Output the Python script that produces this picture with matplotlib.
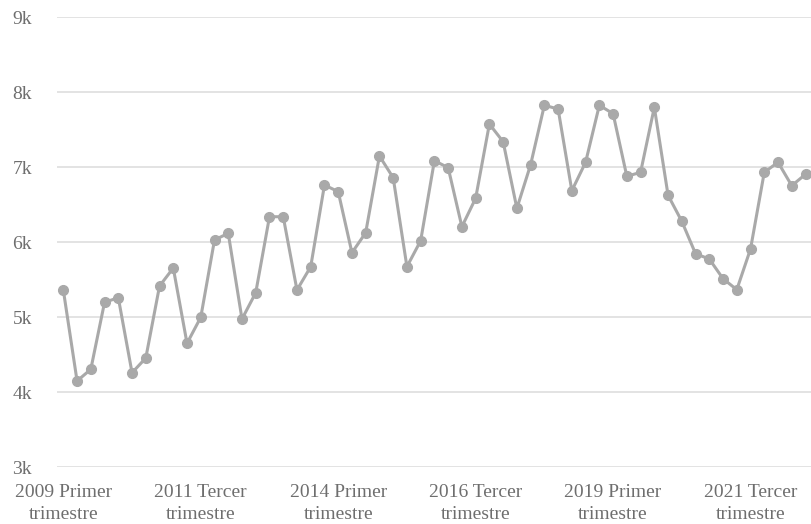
import matplotlib
matplotlib.use("Agg")
import matplotlib.pyplot as plt

# quarterly values, 2009 Q1 .. 2022 Q3
values = [5364, 4151, 4307, 5200, 5261, 4261, 4457, 5417, 5657, 4653,
          5000, 6031, 6120, 4977, 5328, 6341, 6341, 5364, 5675, 6764,
          6675, 5861, 6128, 7151, 6861, 5675, 6021, 7088, 6995, 6208,
          6587, 7577, 7341, 6453, 7035, 7827, 7777, 6688, 7067, 7827,
          7715, 6880, 6933, 7800, 6627, 6280, 5848, 5777, 5515, 5368,
          5911, 6933, 7067, 6755, 6907]

tick_pos = [0, 10, 20, 30, 40, 50]
tick_labels = ["2009 Primer\ntrimestre", "2011 Tercer\ntrimestre",
               "2014 Primer\ntrimestre", "2016 Tercer\ntrimestre",
               "2019 Primer\ntrimestre", "2021 Tercer\ntrimestre"]
y_ticks = [3000, 4000, 5000, 6000, 7000, 8000, 9000]
y_labels = ["3k", "4k", "5k", "6k", "7k", "8k", "9k"]

plt.rcParams['font.family'] = ['Liberation Serif', 'DejaVu Serif']

fig = plt.figure(figsize=(8.11, 5.24), dpi=100)
ax = fig.add_axes([57 / 811, 56.7 / 524, 754 / 811, 450 / 524])

ax.plot(range(len(values)), values, color='#a9a9a9', linewidth=2.2,
        marker='o', markersize=7, zorder=3)

ax.set_ylim(3000, 9000)
ax.set_xlim(-0.46, 54.4)
ax.set_yticks(y_ticks)
ax.set_yticklabels(y_labels)
ax.set_xticks(tick_pos)
ax.set_xticklabels(tick_labels, linespacing=1.4)

ax.grid(axis='y', color='#e3e3e3', linewidth=1.4)
ax.set_axisbelow(True)
for s in ax.spines.values():
    s.set_visible(False)
ax.tick_params(axis='both', length=0, colors='#6e6e6e', labelsize=14)
ax.tick_params(axis='y', pad=18)
ax.tick_params(axis='x', pad=12)

fig.savefig("out.png", dpi=100)
